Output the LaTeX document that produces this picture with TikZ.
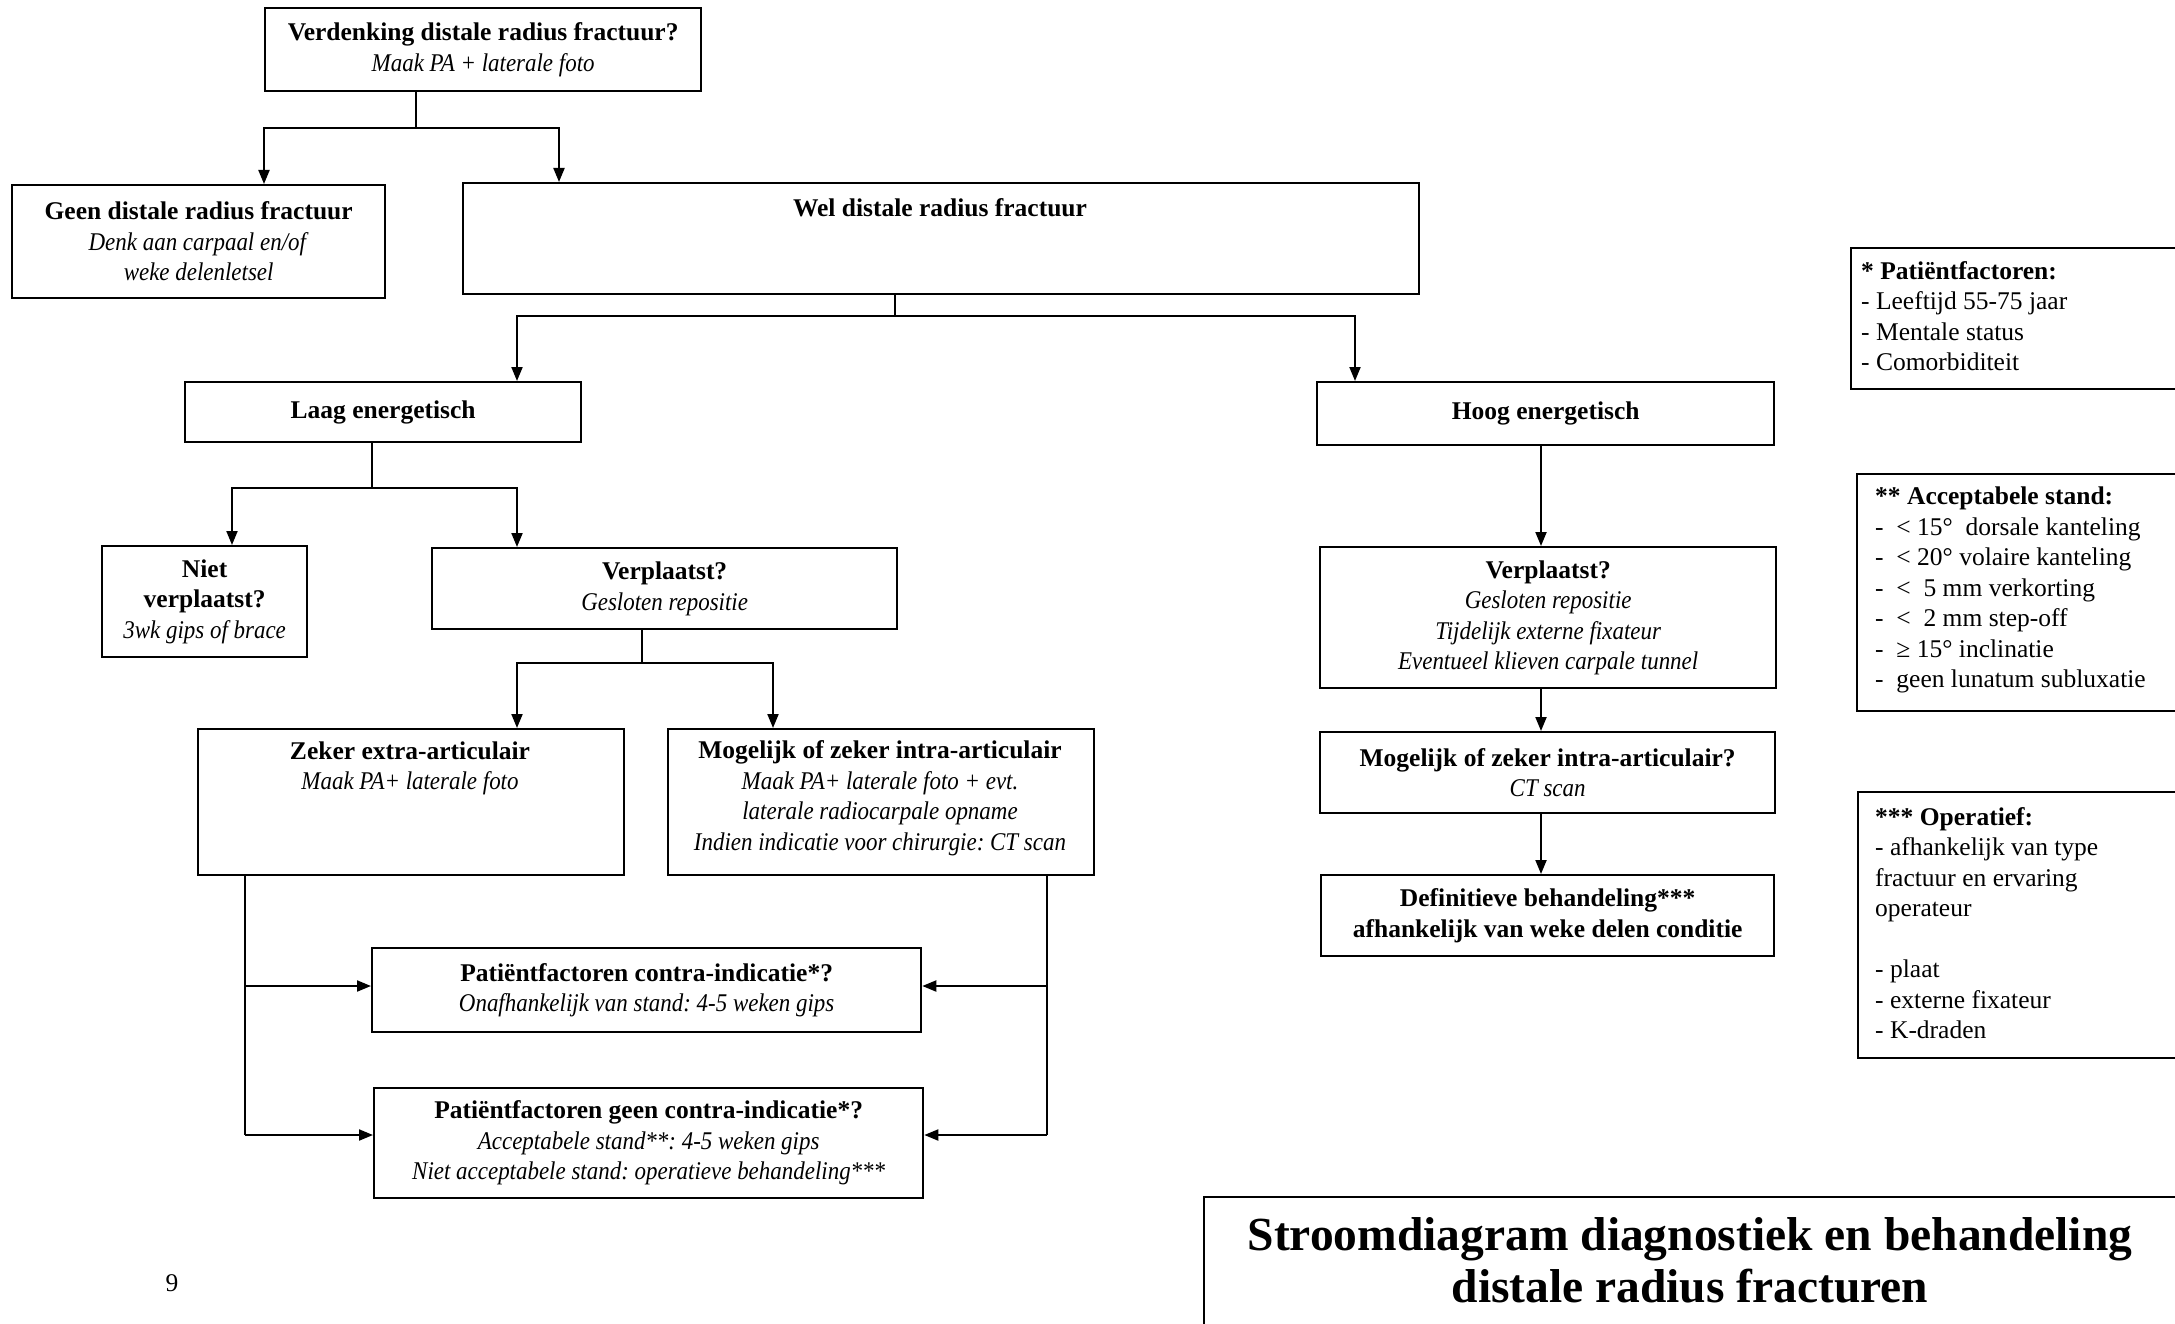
\documentclass[tikz,border=0pt]{standalone}
\usepackage{fontspec}
\setmainfont{Liberation Serif}[ItalicFeatures={FakeStretch=0.9}]
\usetikzlibrary{arrows.meta}
\newcommand\fsmain{\fontsize{25.5}{30.5}\selectfont}
\newcommand\fstitle{\fontsize{47.5}{52}\selectfont}
\frenchspacing
\begin{document}
\begin{tikzpicture}[x=1pt,y=-1pt,
  box/.style={draw, line width=2.3pt, inner sep=0pt, anchor=north west, align=center, font=\fsmain},
  txt/.style={inner sep=0pt, align=center, font=\fsmain},
  ltxt/.style={inner sep=0pt, align=left, font=\fsmain, anchor=west},
  arr/.style={line width=2pt, -{Triangle[length=14pt,width=11pt]}},
  ln/.style={line width=2pt},
  stem/.style={line width=1.4pt}]
\useasboundingbox (0,0) rectangle (2175,1324);

% boxes
\node[box, minimum width=436pt, minimum height=83pt] (b1) at (264,7)
  {\textbf{Verdenking distale radius fractuur?}\\\textit{Maak PA + laterale foto}};
\node[box, minimum width=373pt, minimum height=113pt] (geen) at (11,184)
  {\textbf{Geen distale radius fractuur}\\\textit{Denk aan carpaal en/of}\\\textit{weke delenletsel}};
\node[box, minimum width=956pt, minimum height=111pt] (wel) at (462,182) {};
\node[txt] (welT) at (940,208) {\textbf{Wel distale radius fractuur}};
\node[box, minimum width=396pt, minimum height=60pt] (laag) at (184,381)
  {\textbf{Laag energetisch}};
\node[box, minimum width=457pt, minimum height=63pt] (hoog) at (1316,381)
  {\textbf{Hoog energetisch}};
\node[box, minimum width=205pt, minimum height=111pt] (niet) at (101,545)
  {\textbf{Niet}\\\textbf{verplaatst?}\\\textit{3wk gips of brace}};
\node[box, minimum width=465pt, minimum height=81pt] (vL) at (431,547)
  {\textbf{Verplaatst?}\\\textit{Gesloten repositie}};
\node[box, minimum width=426pt, minimum height=146pt] (zeker) at (197,728) {};
\node[txt] (zekerT) at (410,768.5)
  {\textbf{Zeker extra-articulair}\\\textit{Maak PA+ laterale foto}};
\node[box, minimum width=426pt, minimum height=146pt] (mogL) at (667,728) {};
\node[txt] (mogLT) at (880,798)
  {\textbf{Mogelijk of zeker intra-articulair}\\\textit{Maak PA+ laterale foto + evt.}\\\textit{laterale radiocarpale opname}\\\textit{Indien indicatie voor chirurgie: CT scan}};
\node[box, minimum width=549pt, minimum height=84pt] (contra) at (371,947)
  {\textbf{Patiëntfactoren contra-indicatie*?}\\\textit{Onafhankelijk van stand: 4-5 weken gips}};
\node[box, minimum width=549pt, minimum height=110pt] (gcontra) at (373,1087)
  {\textbf{Patiëntfactoren geen contra-indicatie*?}\\\textit{Acceptabele stand**: 4-5 weken gips}\\\textit{Niet acceptabele stand: operatieve behandeling***}};
\node[box, minimum width=456pt, minimum height=141pt] (vR) at (1319,546)
  {\textbf{Verplaatst?}\\\textit{Gesloten repositie}\\\textit{Tijdelijk externe fixateur}\\\textit{Eventueel klieven carpale tunnel}};
\node[box, minimum width=455pt, minimum height=81pt] (mogR) at (1319,731)
  {\textbf{Mogelijk of zeker intra-articulair?}\\\textit{CT scan}};
\node[box, minimum width=453pt, minimum height=81pt] (def) at (1320,874)
  {\textbf{Definitieve behandeling***}\\\textbf{afhankelijk van weke delen conditie}};

% legend boxes
\node[box, minimum width=400pt, minimum height=141pt] (leg1) at (1850,247) {};
\node[ltxt] (leg1T) at (1861,316)
  {\textbf{* Patiëntfactoren:}\\- Leeftijd 55-75 jaar\\- Mentale status\\- Comorbiditeit};
\node[box, minimum width=400pt, minimum height=237pt] (leg2) at (1856,473) {};
\node[ltxt] (leg2T) at (1875,590)
  {\textbf{** Acceptabele stand:}\\-~~< 15°~~dorsale kanteling\\-~~< 20° volaire kanteling\\-~~<~~5 mm verkorting\\-~~<~~2 mm step-off\\-~~≥ 15° inclinatie\\-~~geen lunatum subluxatie};
\node[box, minimum width=400pt, minimum height=266pt] (leg3) at (1857,791) {};
\node[ltxt] (leg3T) at (1875,923)
  {\textbf{*** Operatief:}\\- afhankelijk van type\\fractuur en ervaring\\operateur\\[30.5pt]- plaat\\- externe fixateur\\- K-draden};

% title
\node[box, minimum width=1000pt, minimum height=200pt] (title) at (1203,1196) {};
\node[txt, font=\fstitle] (titleT) at (1690,1260)
  {\textbf{Stroomdiagram diagnostiek en behandeling}\\\textbf{distale radius fracturen}};
\node[txt] (pnum) at (172,1283) {9};

% connectors
\coordinate (j1) at (416,128);
\coordinate (x1l) at (264,0);
\coordinate (x1r) at (559,0);
\draw[stem] (b1.south -| j1) -- (j1);
\draw[arr] (j1) -| (geen.north -| x1l);
\draw[arr] (j1) -| (wel.north -| x1r);

\coordinate (j2) at (895,316);
\coordinate (x2l) at (517,0);
\coordinate (x2r) at (1355,0);
\draw[stem] (wel.south -| j2) -- (j2);
\draw[arr] (j2) -| (laag.north -| x2l);
\draw[arr] (j2) -| (hoog.north -| x2r);

\coordinate (j3) at (372,488);
\coordinate (x3l) at (232,0);
\coordinate (x3r) at (517,0);
\draw[stem] (laag.south -| j3) -- (j3);
\draw[arr] (j3) -| (niet.north -| x3l);
\draw[arr] (j3) -| (vL.north -| x3r);

\coordinate (j4) at (642,663);
\coordinate (x4l) at (517,0);
\coordinate (x4r) at (773,0);
\draw[stem] (vL.south -| j4) -- (j4);
\draw[arr] (j4) -| (zeker.north -| x4l);
\draw[arr] (j4) -| (mogL.north -| x4r);

\coordinate (xL) at (245,0);
\coordinate (xR) at (1047,0);
\coordinate (yA) at (0,986);
\coordinate (yB) at (0,1135);
\draw[ln] (zeker.south -| xL) -- (xL |- yB);
\draw[arr] (xL |- yA) -- (contra.west |- yA);
\draw[arr] (xL |- yB) -- (gcontra.west |- yB);
\draw[ln] (mogL.south -| xR) -- (xR |- yB);
\draw[arr] (xR |- yA) -- (contra.east |- yA);
\draw[arr] (xR |- yB) -- (gcontra.east |- yB);

\coordinate (xH) at (1541,0);
\draw[arr] (hoog.south -| xH) -- (vR.north -| xH);
\draw[arr] (vR.south -| xH) -- (mogR.north -| xH);
\draw[arr] (mogR.south -| xH) -- (def.north -| xH);
\end{tikzpicture}
\end{document}
